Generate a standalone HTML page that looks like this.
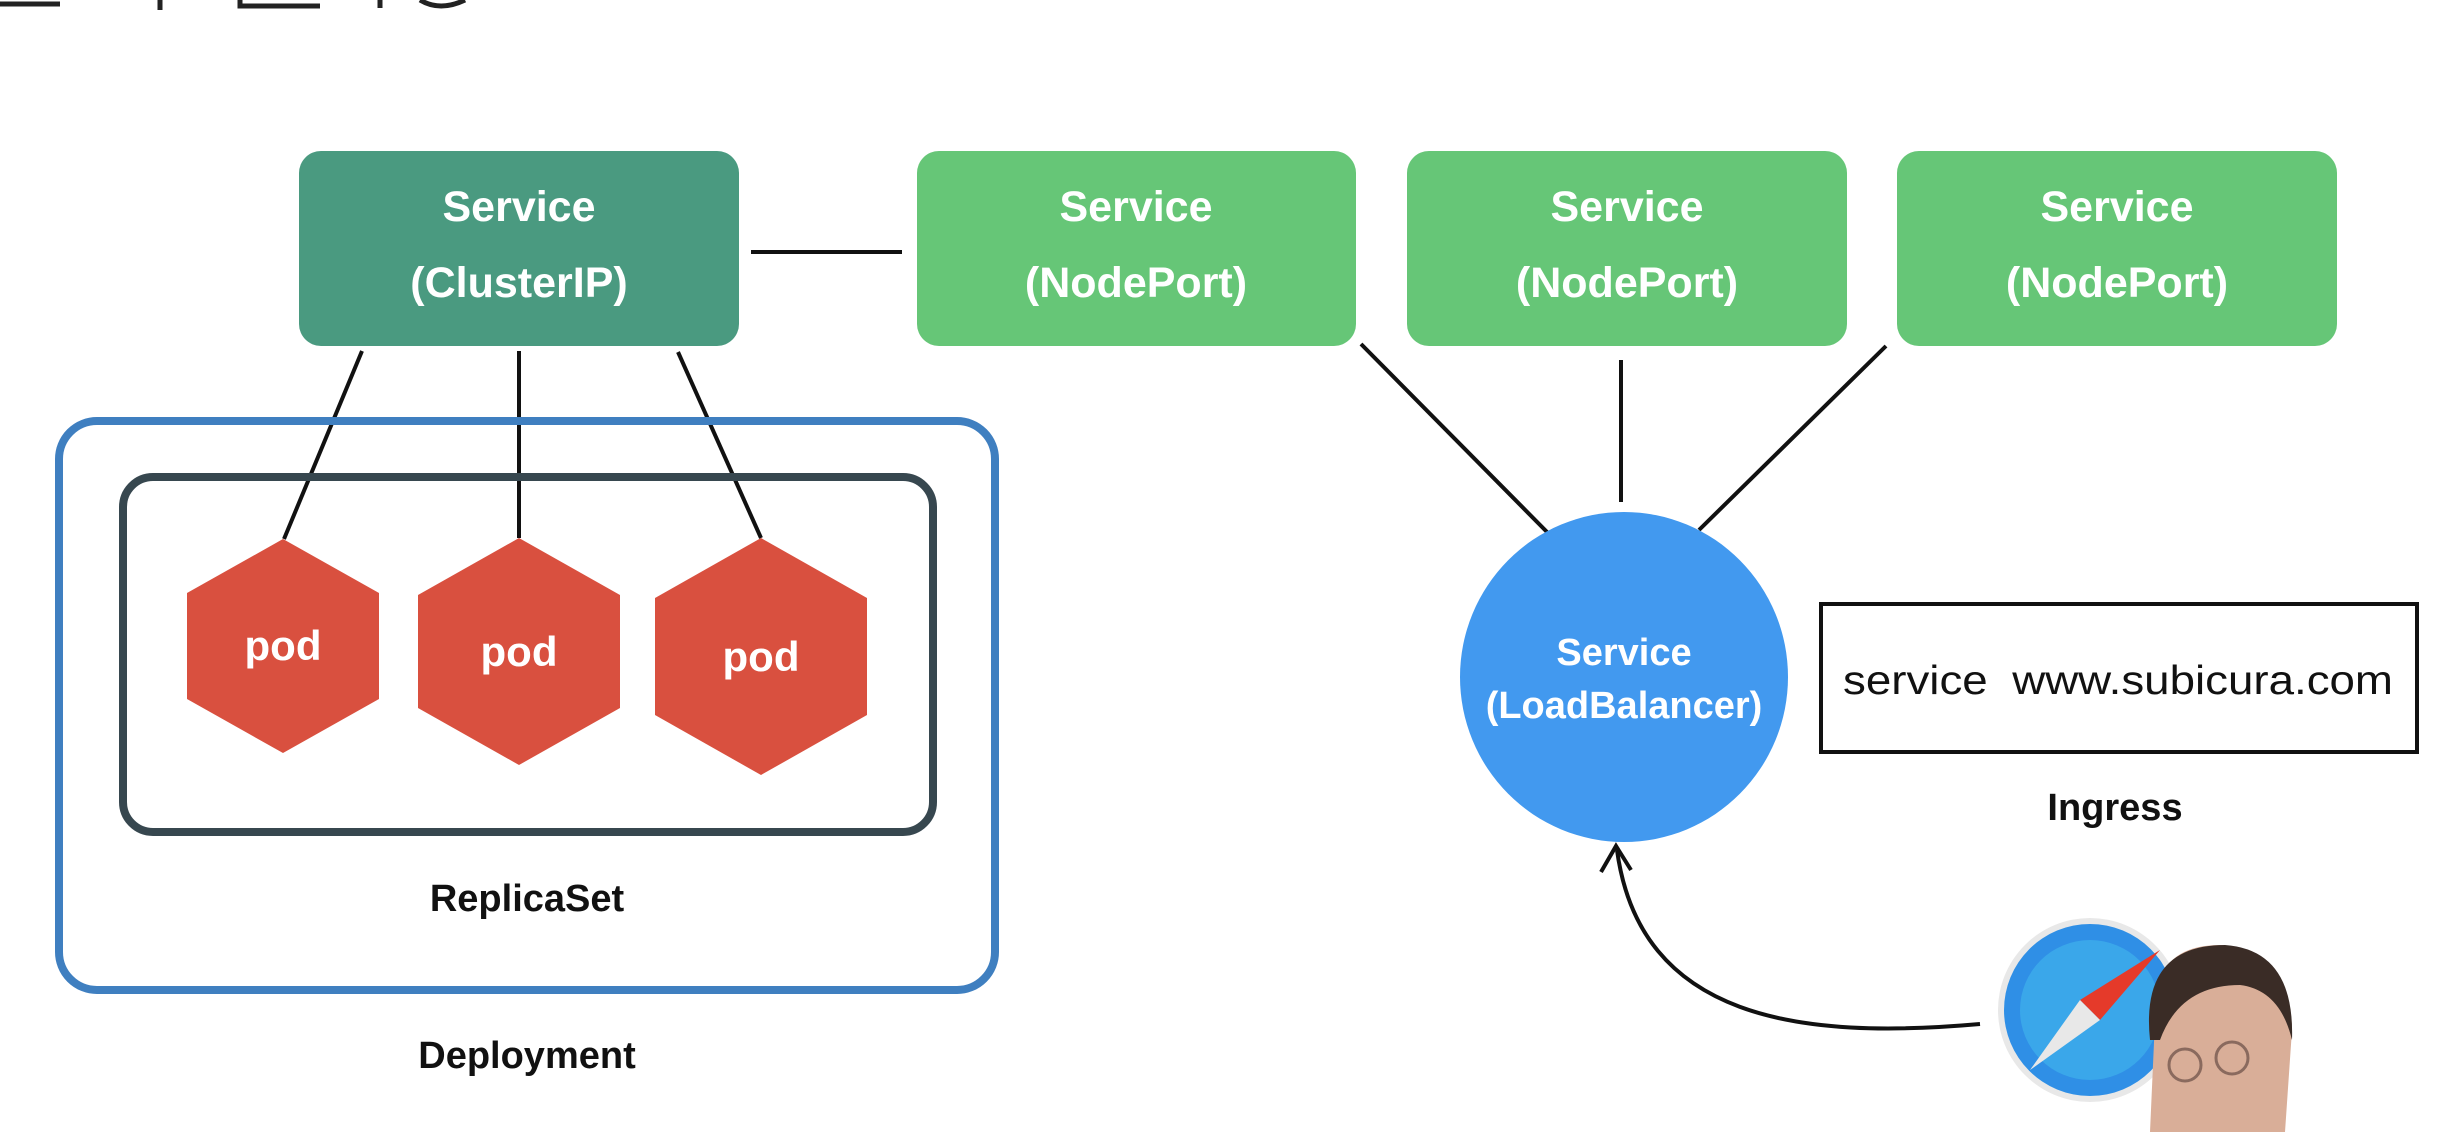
<!DOCTYPE html>
<html><head><meta charset="utf-8"><style>
html,body{margin:0;padding:0;background:#fff;}
svg{display:block;}
text{font-family:"Liberation Sans",sans-serif;}
</style></head><body>
<svg width="2444" height="1132" viewBox="0 0 2444 1132" xmlns="http://www.w3.org/2000/svg">
<rect width="2444" height="1132" fill="#fff"/>
<g stroke="#222" stroke-width="5" fill="none">
<path d="M0 4 H60"/><path d="M160 0 V10"/><path d="M240 0 V6 H320"/><path d="M380 0 V8"/><path d="M420 0 Q440 12 465 0"/>
</g>
<rect x="299" y="151" width="440" height="195" rx="22" fill="#4a9a80"/>
<rect x="917" y="151" width="439" height="195" rx="22" fill="#66c677"/>
<rect x="1407" y="151" width="440" height="195" rx="22" fill="#66c677"/>
<rect x="1897" y="151" width="440" height="195" rx="22" fill="#66c677"/>
<g fill="#fff" font-weight="bold" font-size="43" text-anchor="middle">
<text x="519" y="221">Service</text><text x="519" y="297">(ClusterIP)</text>
<text x="1136" y="221">Service</text><text x="1136" y="297">(NodePort)</text>
<text x="1627" y="221">Service</text><text x="1627" y="297">(NodePort)</text>
<text x="2117" y="221">Service</text><text x="2117" y="297">(NodePort)</text>
</g>
<g stroke="#111" stroke-width="4" fill="none">
<path d="M751 252 H902"/>
<path d="M362 351 L284 539"/><path d="M519 351 V538"/><path d="M678 352 L761 538"/>
<path d="M1361 344 L1548 533"/><path d="M1621 360 V502"/><path d="M1886 346 L1699 530"/>
</g>
<rect x="59" y="421" width="936" height="569" rx="38" fill="none" stroke="#3f7fc0" stroke-width="8"/>
<rect x="123" y="477" width="810" height="355" rx="30" fill="none" stroke="#37474f" stroke-width="8"/>
<g fill="#d9503f">
<polygon points="283,539 379,593 379,699 283,753 187,699 187,593"/>
<polygon points="519,538 620,595 620,708 519,765 418,708 418,595"/>
<polygon points="761,538 867,598 867,715 761,775 655,715 655,598"/>
</g>
<g fill="#fff" font-weight="bold" font-size="42" text-anchor="middle">
<text x="283" y="660">pod</text><text x="519" y="666">pod</text><text x="761" y="671">pod</text>
</g>
<g fill="#111" font-weight="bold" font-size="38" text-anchor="middle">
<text x="527" y="911">ReplicaSet</text>
<text x="527" y="1068">Deployment</text>
<text x="2115" y="820">Ingress</text>
</g>
<ellipse cx="1624" cy="677" rx="164" ry="165" fill="#4299ef"/>
<g fill="#fff" font-weight="bold" font-size="38" text-anchor="middle">
<text x="1624" y="665">Service</text><text x="1624" y="718">(LoadBalancer)</text>
</g>
<rect x="1821" y="604" width="596" height="148" fill="#fff" stroke="#111" stroke-width="4"/>
<text x="1843" y="694" font-size="41" fill="#111" textLength="550" lengthAdjust="spacingAndGlyphs"><tspan>service</tspan><tspan dx="22">www.subicura.com</tspan></text>
<path d="M1980 1024 C1800 1040 1640 1020 1617 850" fill="none" stroke="#111" stroke-width="4"/>
<path d="M1601 872 L1616 846 L1631 870" fill="none" stroke="#111" stroke-width="4"/>
<circle cx="2090" cy="1010" r="92" fill="#e8e8e8"/>
<circle cx="2090" cy="1010" r="86" fill="#2f8fe6"/>
<circle cx="2090" cy="1010" r="70" fill="#3aa7ea"/>
<polygon points="2160,950 2080,1000 2100,1020" fill="#e53a2a"/>
<polygon points="2030,1070 2080,1000 2100,1020" fill="#e8e8e8"/>
<path d="M2150 1132 L2155 1020 Q2150 945 2220 945 Q2290 950 2292 1030 L2285 1132 Z" fill="#d9ae98"/>
<path d="M2150 1040 Q2140 945 2225 945 Q2295 950 2292 1040 Q2280 990 2240 985 Q2180 985 2160 1040 Z" fill="#3a2c26"/>
<circle cx="2185" cy="1065" r="16" fill="none" stroke="#8a6a5e" stroke-width="3"/>
<circle cx="2232" cy="1058" r="16" fill="none" stroke="#8a6a5e" stroke-width="3"/>
</svg>
</body></html>
